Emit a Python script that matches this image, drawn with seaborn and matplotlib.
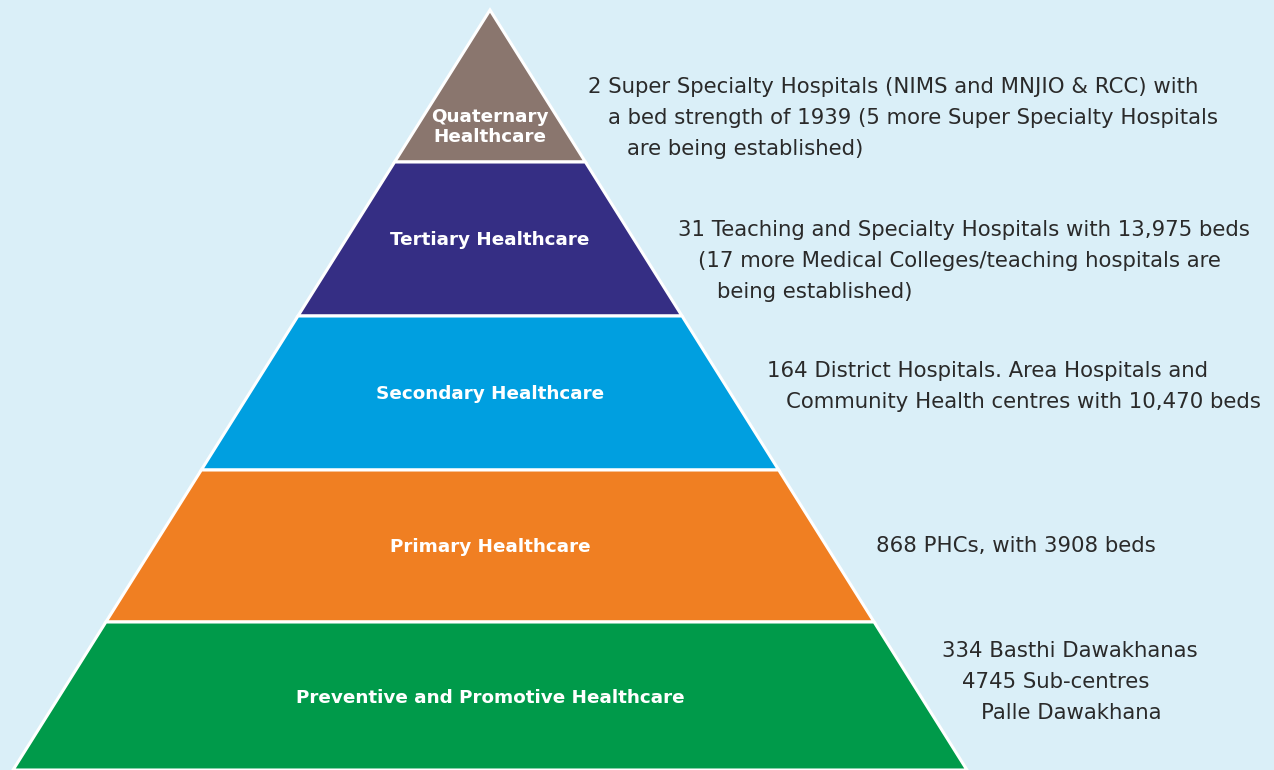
import matplotlib
matplotlib.use('Agg')
import matplotlib.pyplot as plt
import numpy as np
import seaborn as sns

# pyramid levels, top to bottom
levels = ['Quaternary\nHealthcare', 'Tertiary Healthcare', 'Secondary Healthcare',
          'Primary Healthcare', 'Preventive and Promotive Healthcare']
colors = ['#8A766E', '#352E84', '#009FE0', '#F07F22', '#009A4A']
descriptions = [
    ['2 Super Specialty Hospitals (NIMS and MNJIO & RCC) with',
     'a bed strength of 1939 (5 more Super Specialty Hospitals',
     'are being established)'],
    ['31 Teaching and Specialty Hospitals with 13,975 beds',
     '(17 more Medical Colleges/teaching hospitals are',
     'being established)'],
    ['164 District Hospitals. Area Hospitals and',
     'Community Health centres with 10,470 beds'],
    ['868 PHCs, with 3908 beds'],
    ['334 Basthi Dawakhanas',
     '4745 Sub-centres',
     'Palle Dawakhana'],
]

sns.set_theme(style='white')
plt.rcParams['font.family'] = ['DejaVu Sans']

bg = '#DAEFF8'
fig = plt.figure(figsize=(12.74, 7.70), dpi=100, facecolor=bg)
ax = fig.add_axes([0, 0, 1, 1])
ax.set_facecolor(bg)
ax.set_xlim(0, 1274)
ax.set_ylim(770, 0)
ax.axis('off')

# geometry of the pyramid (pixel space)
apex_x, apex_y = 490, 10
bounds = [10, 162, 316, 470, 622, 770]
slope = 477 / 760.0
label_shift = [41, 1, 1, 1, 2]
desc_top = [87, 230, 371, 546, 651]
line_h = 31

def half(y):
    return (y - apex_y) * slope

for i, name in enumerate(levels):
    y0, y1 = bounds[i], bounds[i + 1]
    xs = [apex_x - half(y0), apex_x + half(y0), apex_x + half(y1), apex_x - half(y1)]
    ys = [y0, y0, y1, y1]
    ax.fill(xs, ys, color=colors[i], ec='white', lw=2.2, joinstyle='miter')
    cy = (y0 + y1) / 2 + label_shift[i]
    ax.text(apex_x, cy, name, color='white', fontsize=13.2, fontweight='bold',
            ha='center', va='center', linespacing=1.2)

    # description lines, stepped along the slope
    for j, line in enumerate(descriptions[i]):
        ly = desc_top[i] + j * line_h
        lx = apex_x + half(ly) + 50
        ax.text(lx, ly, line, color='#2A2A2A', fontsize=15.3, ha='left', va='center')

fig.savefig('out.png', dpi=100, facecolor=bg)
